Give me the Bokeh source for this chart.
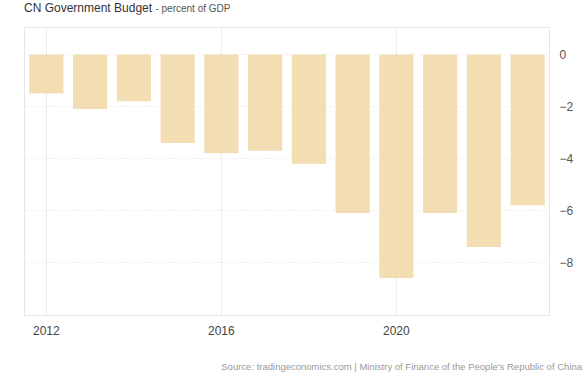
from bokeh.plotting import figure
from bokeh.models import Range1d, FixedTicker, Div
from bokeh.layouts import column
from bokeh.embed import file_html
from bokeh.resources import INLINE

years = [2012, 2013, 2014, 2015, 2016, 2017, 2018, 2019, 2020, 2021, 2022, 2023]
budget = [-1.5, -2.1, -1.8, -3.4, -3.8, -3.7, -4.2, -6.1, -8.6, -6.1, -7.4, -5.8]
x_ticks = [2012, 2016, 2020]
y_ticks = [0, -2, -4, -6, -8]
title_main = "CN Government Budget"
title_sub = "- percent of GDP"
source_text = "Source: tradingeconomics.com | Ministry of Finance of the People's Republic of China"

FONT = "Liberation Sans"

title_div = Div(
    text=(f"<div style=\"position:relative; top:0px; left:24px; white-space:nowrap; "
          f"font-family:'{FONT}'; line-height:13px;\">"
          f"<span style='font-size:12px; color:#333333'>{title_main}</span> "
          f"<span style='font-size:10px; color:#555555'>{title_sub}</span></div>"),
    width=585, height=14, margin=0)

p = figure(width=585, height=326, output_backend="svg", toolbar_location=None,
           x_range=Range1d(2011.5, 2023.5), y_range=Range1d(-10.04, 1.04),
           min_border_left=24, min_border_right=36, min_border_top=13, min_border_bottom=25,
           x_axis_location="below", y_axis_location="right", margin=0)
p.outline_line_color = "#e6e6e6"
p.background_fill_color = "white"
p.border_fill_color = "white"

p.vbar(x=years, top=0, bottom=budget, width=0.78, fill_color="#F3DDB2", line_color=None)

xa = p.xaxis[0]
xa.ticker = FixedTicker(ticks=x_ticks)
xa.axis_line_color = "#e6e6e6"
xa.major_tick_line_color = None
xa.minor_tick_line_color = None
xa.major_label_standoff = 4
xa.major_label_text_font = FONT
xa.major_label_text_font_size = "12px"
xa.major_label_text_color = "#444444"

ya = p.yaxis[0]
ya.ticker = FixedTicker(ticks=y_ticks)
ya.axis_line_color = "#e6e6e6"
ya.major_tick_line_color = None
ya.minor_tick_line_color = None
ya.major_label_standoff = 4
ya.major_label_text_font = FONT
ya.major_label_text_font_size = "12px"
ya.major_label_text_color = "#555555"

p.xgrid.ticker = FixedTicker(ticks=x_ticks)
p.xgrid.grid_line_color = "#ececec"
p.ygrid.ticker = FixedTicker(ticks=y_ticks)
p.ygrid.grid_line_color = "#e2e2e2"
p.ygrid.grid_line_dash = "1 2"

source_div = Div(
    text=(f"<div style=\"position:absolute; top:21px; right:3px; white-space:nowrap; "
          f"font-family:'{FONT}'; font-size:9.5px; color:#999999; line-height:12px;\">"
          f"{source_text}</div>"),
    width=585, height=35, margin=0)

layout = column(title_div, p, source_div, spacing=0)

open("out.html", "w").write(file_html(layout, INLINE))
